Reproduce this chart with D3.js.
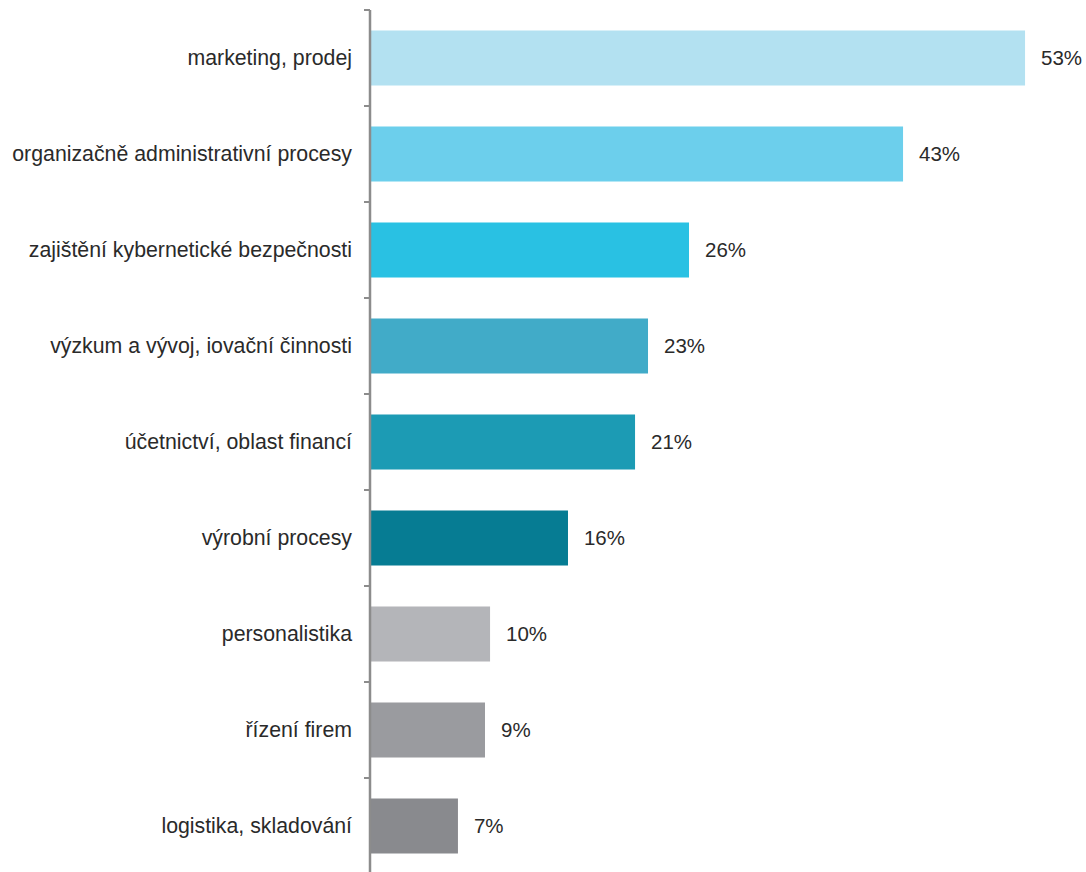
<!DOCTYPE html>
<html>
<head>
<meta charset="utf-8">
<script src="https://cdn.jsdelivr.net/npm/d3@7/dist/d3.min.js"></script>
<style>
html,body{margin:0;padding:0;background:#fff;}
svg{display:block;}
</style>
</head>
<body>
<svg id="chart" width="1086" height="872"></svg>
<script>
const categories = [
  "marketing, prodej",
  "organizačně administrativní procesy",
  "zajištění kybernetické bezpečnosti",
  "výzkum a vývoj, iovační činnosti",
  "účetnictví, oblast financí",
  "výrobní procesy",
  "personalistika",
  "řízení firem",
  "logistika, skladování"
];
const values = [52.96, 43.08, 25.75, 22.43, 21.38, 15.95, 9.64, 9.23, 7.04];
const valueLabels = ["53%", "43%", "26%", "23%", "21%", "16%", "10%", "9%", "7%"];
const colors = ["#b3e1f1", "#6ccfec", "#29c1e3", "#41abc8", "#1c9bb4", "#067c93", "#b4b5b9", "#9a9b9f", "#898a8e"];

const svg = d3.select("#chart");
const axisX = 370;
const x = d3.scaleLinear().domain([0, 100]).range([axisX + 1, axisX + 1 + 1235]);
const y = d3.scaleBand().domain(categories).range([10, 874]).paddingInner(0.427).paddingOuter(0.2135);

svg.append("g").selectAll("rect").data(categories).join("rect")
  .attr("x", x(0))
  .attr("y", d => y(d))
  .attr("width", (d, i) => x(values[i]) - x(0))
  .attr("height", y.bandwidth())
  .attr("fill", (d, i) => colors[i]);

// axis line and ticks at band boundaries
const ax = svg.append("g");
ax.append("line").attr("x1", axisX).attr("x2", axisX).attr("y1", 10).attr("y2", 874)
  .attr("stroke", "#8c8c8c").attr("stroke-width", 2.5);
const bounds = categories.map(d => y(d) - y.step() * y.paddingOuter()).concat([874]);
ax.selectAll("line.tick").data(bounds).join("line").attr("class", "tick")
  .attr("x1", axisX - 6).attr("x2", axisX).attr("y1", d => Math.round(d)).attr("y2", d => Math.round(d))
  .attr("stroke", "#8c8c8c").attr("stroke-width", 2);

svg.append("g").selectAll("text").data(categories).join("text")
  .attr("x", 352)
  .attr("y", d => y(d) + y.bandwidth() / 2)
  .attr("dy", "0.35em")
  .attr("text-anchor", "end")
  .attr("font-family", "Liberation Sans, Arial, sans-serif")
  .attr("font-size", 21.3)
  .attr("fill", "#2a2a2a")
  .text(d => d);

svg.append("g").selectAll("text").data(categories).join("text")
  .attr("x", (d, i) => x(values[i]) + 16)
  .attr("y", d => y(d) + y.bandwidth() / 2)
  .attr("dy", "0.35em")
  .attr("font-family", "Liberation Sans, Arial, sans-serif")
  .attr("font-size", 20.5)
  .attr("fill", "#2a2a2a")
  .text((d, i) => valueLabels[i]);
</script>
</body>
</html>
